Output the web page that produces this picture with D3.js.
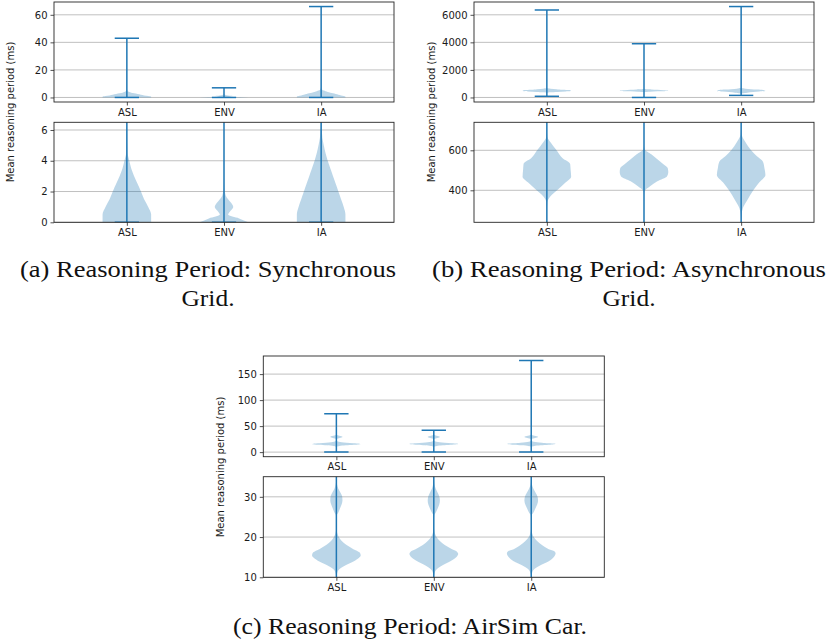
<!DOCTYPE html>
<html>
<head>
<meta charset="utf-8">
<script src="https://cdn.jsdelivr.net/npm/d3@7"></script>
<style>
  html, body { margin: 0; padding: 0; background: #fff; }
  svg { display: block; }
  .cap { font-family: "Liberation Serif", "Times New Roman", Times, serif; }
</style>
</head>
<body>
<svg id="chart" width="828" height="641"></svg>
<script>
// ---------------- DATA ----------------
const categories = ["ASL", "ENV", "IA"];
const yLabel = "Mean reasoning period (ms)";

// (a) Synchronous Grid — extrema and density profiles [value, relative half-width]
const syncMin = [0, 0, 0];
const syncMax = [43, 7, 66];
const syncASL = [[0,1.0],[0.5,1.0],[1,0.88],[1.5,0.71],[2,0.58],[2.5,0.44],[3,0.3],[3.5,0.18],[4,0.1],[4.5,0.03],[6,0.008],[10,0.002],[43,0]];
const syncENV = [[0,1.0],[0.25,0.62],[0.5,0.17],[0.75,0.27],[1.0,0.38],[1.25,0.3],[1.5,0.17],[1.75,0.07],[2.2,0.02],[3,0.005],[7,0]];
const syncIA  = [[0,1.0],[0.5,1.0],[1,0.93],[1.5,0.82],[2,0.71],[2.5,0.6],[3,0.49],[3.5,0.38],[4,0.27],[4.5,0.18],[5,0.11],[5.5,0.05],[6,0.03],[6.5,0.015],[8,0.005],[66,0]];
const syncTopTicks = [0, 20, 40, 60];
const syncZoomTicks = [0, 2, 4, 6];
const syncZoomRange = [0, 6.5];

// (b) Asynchronous Grid
const asyncMin = [85, 0, 150];
const asyncMax = [6350, 3900, 6600];
const asyncASL = [[85,0],[300,0.004],[340,0.02],[370,0.15],[400,0.42],[440,0.78],[468,1.0],[500,0.98],[532,0.96],[560,0.65],[600,0.4],[640,0.15],[668,0.02],[700,0.004],[6350,0]];
const asyncENV = [[0,0],[380,0.003],[397,0.03],[420,0.25],[445,0.55],[470,0.95],[490,1.0],[510,0.98],[530,0.8],[555,0.55],[580,0.3],[605,0.03],[630,0.003],[3900,0]];
const asyncIA  = [[150,0],[250,0.005],[280,0.02],[310,0.07],[350,0.25],[400,0.5],[440,0.75],[477,1.0],[510,0.96],[543,0.9],[570,0.65],[600,0.41],[640,0.18],[680,0.02],[720,0.004],[6600,0]];
const asyncTopTicks = [0, 2000, 4000, 6000];
const asyncZoomTicks = [400, 600];
const asyncZoomRange = [240, 740];

// (c) AirSim Car
const carMin = [0, 0, 0];
const carMax = [74, 42, 176];
const carASL = [[0,0],[10,0.005],[11,0.03],[12,0.12],[13,0.38],[14,0.72],[14.8,0.92],[15.5,1.0],[16.2,0.95],[17,0.7],[18,0.42],[19,0.22],[20,0.1],[21,0.035],[22,0.01],[24,0.005],[25.5,0.02],[26,0.07],[27,0.14],[28,0.21],[29,0.25],[30,0.24],[31,0.17],[32,0.08],[33,0.03],[34,0.01],[36,0],[74,0]];
const carENV = [[0,0],[10,0.005],[11,0.03],[12,0.12],[13,0.36],[14,0.68],[15,0.92],[15.8,1.0],[16.5,0.93],[17,0.75],[18,0.45],[19,0.25],[20,0.11],[21,0.04],[22,0.01],[24,0.005],[25.5,0.02],[26,0.07],[27,0.15],[28,0.22],[29,0.25],[30,0.23],[31,0.16],[32,0.08],[33,0.03],[34,0.01],[36,0],[42,0]];
const carIA  = [[0,0],[10,0.005],[11,0.03],[12,0.12],[13,0.38],[14,0.72],[15,0.92],[16,1.0],[16.5,0.95],[17,0.72],[18,0.44],[19,0.24],[20,0.1],[21,0.035],[22,0.01],[24,0.005],[25.5,0.02],[26,0.08],[27,0.16],[28,0.24],[29,0.28],[30,0.26],[31,0.18],[32,0.09],[33,0.03],[34,0.01],[36,0],[176,0]];
const carTopTicks = [0, 50, 100, 150];
const carZoomTicks = [10, 20, 30];
const carZoomRange = [10, 35];

const captions = [
  ["(a) Reasoning Period: Synchronous", "Grid."],
  ["(b) Reasoning Period: Asynchronous", "Grid."],
  ["(c) Reasoning Period: AirSim Car."]
];

// ---------------- DRAW ----------------
const svg = d3.select("#chart");
const C0 = "#1f77b4";
const FONT = "DejaVu Sans, sans-serif";
let clipId = 0;

function drawPanel(x0, x1, yTop, yBot, domain, ticks, profiles, mins, maxs) {
  const g = svg.append("g");
  const x = d3.scaleLinear().domain([0.25, 3.75]).range([x0, x1]);
  const y = d3.scaleLinear().domain(domain).range([yBot, yTop]);
  const id = "clip" + (clipId++);
  svg.append("clipPath").attr("id", id).append("rect")
    .attr("x", x0).attr("y", yTop).attr("width", x1 - x0).attr("height", yBot - yTop);

  // grid
  g.selectAll("line.grid").data(ticks).join("line")
    .attr("x1", x0).attr("x2", x1)
    .attr("y1", d => y(d)).attr("y2", d => y(d))
    .attr("stroke", "#b0b0b0").attr("stroke-width", 0.8);

  const inner = g.append("g").attr("clip-path", `url(#${id})`);
  const halfMax = x(1.25) - x(1); // width 0.5 → half 0.25
  const capHalf = x(1.125) - x(1);

  profiles.forEach((prof, i) => {
    const cx = x(i + 1);
    const area = d3.area()
      .y(d => y(d[0]))
      .x0(d => cx - d[1] * halfMax)
      .x1(d => cx + d[1] * halfMax)
      .curve(d3.curveMonotoneY);
    inner.append("path").attr("d", area(prof))
      .attr("fill", C0).attr("fill-opacity", 0.3).attr("stroke", "none");
    inner.append("line")
      .attr("x1", cx).attr("x2", cx)
      .attr("y1", y(mins[i])).attr("y2", y(maxs[i]))
      .attr("stroke", C0).attr("stroke-width", 1.5);
    [mins[i], maxs[i]].forEach(v => {
      inner.append("line")
        .attr("x1", cx - capHalf).attr("x2", cx + capHalf)
        .attr("y1", y(v)).attr("y2", y(v))
        .attr("stroke", C0).attr("stroke-width", 1.5);
    });
  });

  // frame
  g.append("rect").attr("x", x0).attr("y", yTop)
    .attr("width", x1 - x0).attr("height", yBot - yTop)
    .attr("fill", "none").attr("stroke", "#262626").attr("stroke-width", 0.9);

  // axes
  const ya = g.append("g").attr("transform", `translate(${x0},0)`)
    .call(d3.axisLeft(y).tickValues(ticks).tickFormat(d => String(d)).tickSize(3.5).tickPadding(3));
  const xa = g.append("g").attr("transform", `translate(0,${yBot})`)
    .call(d3.axisBottom(x).tickValues([1, 2, 3]).tickFormat(d => categories[d - 1]).tickSize(3.5).tickPadding(3));
  [ya, xa].forEach(a => {
    a.select(".domain").remove();
    a.selectAll("line").attr("stroke", "#262626").attr("stroke-width", 0.8);
    a.selectAll("text").attr("font-family", FONT).attr("font-size", 10).attr("fill", "#1a1a1a");
  });
  return g;
}

function yTitle(cx, cy) {
  svg.append("text")
    .attr("transform", `translate(${cx},${cy}) rotate(-90)`)
    .attr("text-anchor", "middle").attr("dy", "0.35em")
    .attr("font-family", FONT).attr("font-size", 10).attr("fill", "#1a1a1a")
    .text(yLabel);
}

function padDomain(mins, maxs) {
  const lo = d3.min(mins), hi = d3.max(maxs), m = (hi - lo) * 0.05;
  return [lo - m, hi + m];
}

// (a)
drawPanel(54, 394, 2, 102, padDomain(syncMin, syncMax), syncTopTicks, [syncASL, syncENV, syncIA], syncMin, syncMax);
drawPanel(54, 394, 122.3, 222.3, syncZoomRange, syncZoomTicks, [syncASL, syncENV, syncIA], syncMin, syncMax);
yTitle(10, 112);
// (b)
drawPanel(474, 814, 2, 102, padDomain(asyncMin, asyncMax), asyncTopTicks, [asyncASL, asyncENV, asyncIA], asyncMin, asyncMax);
drawPanel(474, 814, 122.3, 222.3, asyncZoomRange, asyncZoomTicks, [asyncASL, asyncENV, asyncIA], asyncMin, asyncMax);
yTitle(431, 112);
// (c)
drawPanel(263.3, 604.3, 356, 456.7, padDomain(carMin, carMax), carTopTicks, [carASL, carENV, carIA], carMin, carMax);
drawPanel(263.3, 604.3, 476.7, 577.3, carZoomRange, carZoomTicks, [carASL, carENV, carIA], carMin, carMax);
yTitle(220, 467);

// captions
function caption(lines, cx, y0, widths) {
  lines.forEach((t, i) => {
    svg.append("text")
      .attr("class", "cap")
      .attr("x", cx).attr("y", y0 + i * 29)
      .attr("text-anchor", "middle")
      .attr("font-size", 23).attr("fill", "#111")
      .attr("textLength", widths[i]).attr("lengthAdjust", "spacingAndGlyphs")
      .text(t);
  });
}
caption(captions[0], 208, 277, [376, 53]);
caption(captions[1], 629, 277, [394, 53]);
caption(captions[2], 410, 634, [354]);
</script>
</body>
</html>
